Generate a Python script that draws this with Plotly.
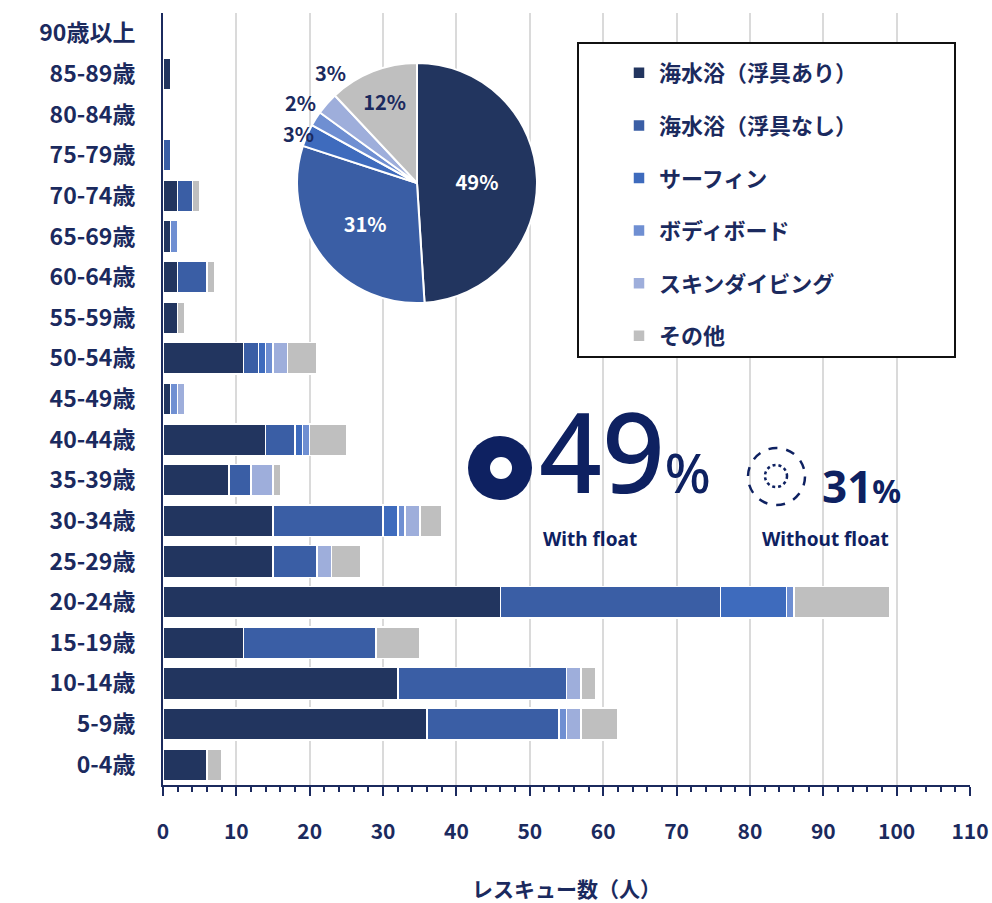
import plotly.graph_objects as go

# Age groups, listed top to bottom as they appear on the chart
ages = ["90歳以上", "85-89歳", "80-84歳", "75-79歳", "70-74歳", "65-69歳", "60-64歳",
        "55-59歳", "50-54歳", "45-49歳", "40-44歳", "35-39歳", "30-34歳", "25-29歳",
        "20-24歳", "15-19歳", "10-14歳", "5-9歳", "0-4歳"]

# Rescue counts per activity (persons)
with_float = [0, 1, 0, 0, 2, 1, 2, 2, 11, 1, 14, 9, 15, 15, 46, 11, 32, 36, 6]
without_float = [0, 0, 0, 1, 2, 0, 4, 0, 2, 0, 4, 3, 15, 6, 30, 18, 23, 18, 0]
surfing = [0, 0, 0, 0, 0, 0, 0, 0, 1, 0, 1, 0, 2, 0, 9, 0, 0, 0, 0]
bodyboard = [0, 0, 0, 0, 0, 1, 0, 0, 1, 1, 1, 0, 1, 0, 1, 0, 0, 1, 0]
skin_diving = [0, 0, 0, 0, 0, 0, 0, 0, 2, 1, 0, 3, 2, 2, 0, 0, 2, 2, 0]
other = [0, 0, 0, 0, 1, 0, 1, 1, 4, 0, 5, 1, 3, 4, 13, 6, 2, 5, 2]

series_names = ["海水浴（浮具あり）", "海水浴（浮具なし）", "サーフィン",
                "ボディボード", "スキンダイビング", "その他"]
series_values = [with_float, without_float, surfing, bodyboard, skin_diving, other]

# Share of all rescues per activity (%)
pie_shares = [49, 31, 3, 2, 3, 12]

x_ticks = list(range(0, 111, 10))

colors = ["#22355F", "#3A5EA5", "#3E6BBD", "#6F8FD2", "#9EAEDB", "#BFBFBF"]
NAVY = "#1B2A5E"
DEEP = "#0E2161"
JP = "Noto Sans CJK JP"

W, H = 992, 903
L, R, T, B = 163, 22, 13, 118
PW, PH = W - L - R, H - T - B


def px(x):
    return (x - L) / PW


def py(y):
    return (H - B - y) / PH


fig = go.Figure()

for name, vals, col in zip(series_names, series_values, colors):
    fig.add_trace(go.Bar(
        y=ages, x=[v if v else None for v in vals], orientation="h", name=name,
        marker=dict(color=col, line=dict(color="white", width=1.5)),
        legendgroup=name, showlegend=True, hoverinfo="x+y+name",
    ))

# Activity share pie
pie_text_colors = ["white", "white", NAVY, NAVY, NAVY, NAVY]
fig.add_trace(go.Pie(
    labels=series_names, values=pie_shares, sort=False, direction="clockwise",
    rotation=0, marker=dict(colors=colors, line=dict(color="white", width=2)),
    text=[f"{s}%" for s in pie_shares], textinfo="text",
    textposition=["inside", "inside", "none", "none", "none", "inside"],
    insidetextorientation="horizontal",
    textfont=dict(family=JP, size=20, color=pie_text_colors, weight="bold"),
    domain=dict(x=[px(297), px(537)], y=[py(303), py(63)]),
    showlegend=False, hoverinfo="label+percent",
))


def note(x, y, text, **font):
    return dict(x=px(x), y=py(y), xref="paper", yref="paper", text=text,
                showarrow=False, xanchor="center", yanchor="middle", font=font)


annotations = []
# labels of the thin pie slices
for share, (ax_, ay_) in zip(pie_shares[2:5], [(298, 133), (300, 103), (330, 72)]):
    annotations.append(note(ax_, ay_, f"{share}%", family=JP, size=20,
                            color=NAVY, weight="bold"))

# highlight figures
annotations += [
    note(625, 450, f"{pie_shares[0]}<span style='font-size:54px'>%</span>",
         family="Noto Sans", size=110, color=DEEP, weight=500),
    note(590, 539, "With float", family="Noto Sans", size=19, color=DEEP, weight="bold"),
    note(861, 486, f"{pie_shares[1]}<span style='font-size:32px'>%</span>",
         family="Noto Sans", size=44, color=DEEP, weight="bold"),
    note(825, 539, "Without float", family="Noto Sans", size=19, color=DEEP,
         weight="bold"),
]

shapes = [
    # legend frame
    dict(type="rect", xref="paper", yref="paper", x0=px(578), x1=px(955),
         y0=py(357), y1=py(43), line=dict(color="#111111", width=2),
         fillcolor="white", layer="above"),
    # solid ring icon
    dict(type="circle", xref="paper", yref="paper", x0=px(468), x1=px(532),
         y0=py(500), y1=py(436), line=dict(width=0), fillcolor=DEEP, layer="above"),
    dict(type="circle", xref="paper", yref="paper", x0=px(490), x1=px(512),
         y0=py(479), y1=py(457), line=dict(width=0), fillcolor="white", layer="above"),
    # dashed ring icon
    dict(type="circle", xref="paper", yref="paper", x0=px(748), x1=px(805),
         y0=py(505), y1=py(448), line=dict(color=DEEP, width=2.5, dash="dash"),
         layer="above"),
    dict(type="circle", xref="paper", yref="paper", x0=px(765), x1=px(787),
         y0=py(487), y1=py(465), line=dict(color=DEEP, width=2.5, dash="3px,3px"),
         layer="above"),
]

fig.update_layout(
    width=W, height=H, margin=dict(l=L, r=R, t=T, b=B),
    paper_bgcolor="white", plot_bgcolor="white",
    barmode="stack", bargap=0.22,
    annotations=annotations, shapes=shapes,
    legend=dict(x=px(619), y=py(52), xanchor="left", yanchor="top",
                bgcolor="rgba(0,0,0,0)", tracegroupgap=21,
                font=dict(family=JP, size=22, color=NAVY, weight="bold")),
    font=dict(family=JP, color=NAVY),
)

fig.update_xaxes(
    range=[0, 110], tickvals=x_ticks, ticktext=[str(v) for v in x_ticks],
    showgrid=True, gridcolor="#DADADA", gridwidth=2, zeroline=False,
    showline=True, linecolor=NAVY, linewidth=2,
    ticks="outside", ticklen=9, tickwidth=2, tickcolor=NAVY,
    minor=dict(dtick=2, ticks="outside", ticklen=5, tickwidth=1.5,
               tickcolor=NAVY, showgrid=False),
    ticklabelstandoff=18, automargin=False,
    tickfont=dict(family=JP, size=21, color=NAVY, weight="bold"),
    title=dict(text="レスキュー数（人）", standoff=40,
               font=dict(family=JP, size=21, color=NAVY, weight="bold")),
    fixedrange=True,
)
fig.update_yaxes(
    categoryorder="array", categoryarray=ages, autorange="reversed",
    showline=True, linecolor=NAVY, linewidth=2, showgrid=False,
    ticks="", ticklabelstandoff=21, automargin=False,
    tickfont=dict(family=JP, size=23, color=NAVY, weight="bold"),
    fixedrange=True,
)

fig.write_html("out.html")
